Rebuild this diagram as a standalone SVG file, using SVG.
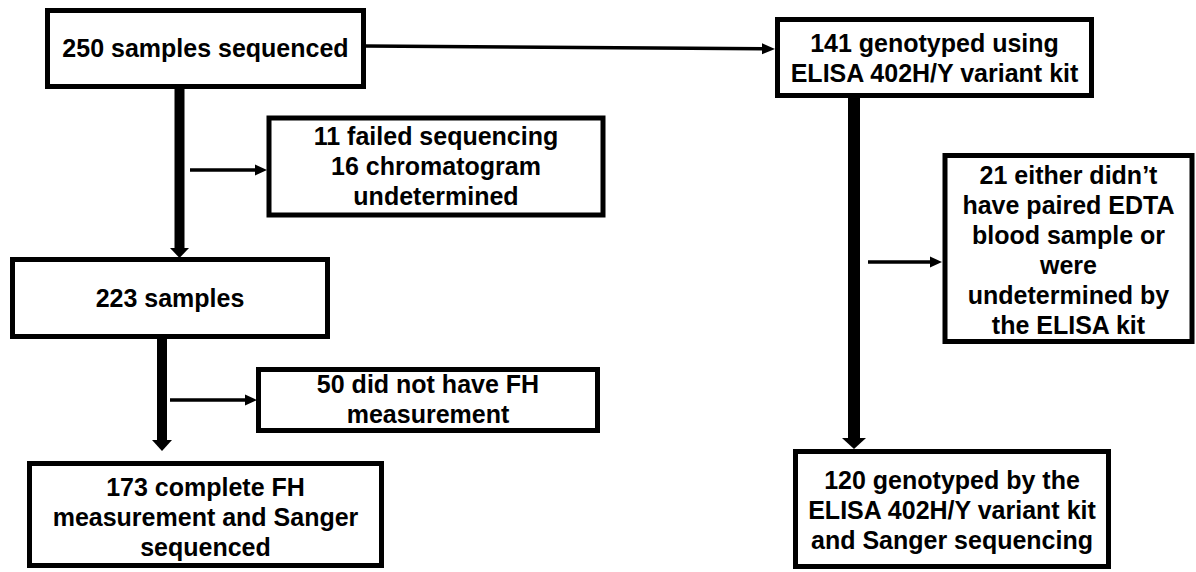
<svg xmlns="http://www.w3.org/2000/svg" width="1196" height="572" viewBox="0 0 1196 572">
<style>
  .box { fill: #ffffff; stroke: #000000; stroke-width: 5; }
  .lbl { font-family: "Liberation Sans", Arial, sans-serif; font-weight: bold; font-size: 25px; fill: #000000; text-anchor: middle; }
  .thick { fill: #000000; }
  .thin { stroke: #000000; stroke-width: 3.5; fill: none; }
  .head { fill: #000000; }
</style>
<rect width="1196" height="572" fill="#ffffff"/>
<g id="connectors">
  <!-- 250 -> 223 -->
  <rect class="thick" x="174.5" y="88" width="10" height="161"/>
  <polygon class="head" points="170,248 189,248 179.5,258"/>
  <!-- side arrow to 11 failed -->
  <line class="thin" x1="190" y1="170" x2="256" y2="170"/>
  <polygon class="head" points="255,164.5 267,170 255,175.5"/>
  <!-- 223 -> 173 -->
  <rect class="thick" x="157" y="339" width="10" height="102"/>
  <polygon class="head" points="152,440 172,440 162,451"/>
  <!-- side arrow to 50 -->
  <line class="thin" x1="170" y1="400" x2="246" y2="400"/>
  <polygon class="head" points="245,394.5 257,400 245,405.5"/>
  <!-- 250 -> 141 -->
  <line class="thin" x1="365" y1="46" x2="763" y2="48.7"/>
  <polygon class="head" points="762,43.2 775,49 762,54.2"/>
  <!-- 141 -> 120 -->
  <rect class="thick" x="848" y="98" width="12" height="341"/>
  <polygon class="head" points="842,438 866,438 854,449"/>
  <!-- side arrow to 21 -->
  <line class="thin" x1="868" y1="262" x2="931" y2="262"/>
  <polygon class="head" points="930,256.5 942,262 930,267.5"/>
</g>
<g id="n250">
  <rect class="box" x="47.5" y="10.5" width="316" height="76"/>
  <text class="lbl" x="205.5" y="57">250 samples sequenced</text>
</g>
<g id="n11">
  <rect class="box" x="269" y="118" width="334" height="97"/>
  <text class="lbl" x="436" y="145">11 failed sequencing</text>
  <text class="lbl" x="436" y="175">16 chromatogram</text>
  <text class="lbl" x="436" y="205">undetermined</text>
</g>
<g id="n223">
  <rect class="box" x="12.5" y="259.5" width="315" height="77"/>
  <text class="lbl" x="170" y="307">223 samples</text>
</g>
<g id="n50">
  <rect class="box" x="258.5" y="369.5" width="339" height="61"/>
  <text class="lbl" x="428" y="393">50 did not have FH</text>
  <text class="lbl" x="428" y="423">measurement</text>
</g>
<g id="n173">
  <rect class="box" x="29.5" y="463.5" width="352" height="102"/>
  <text class="lbl" x="205.5" y="496">173 complete FH</text>
  <text class="lbl" x="205.5" y="526">measurement and Sanger</text>
  <text class="lbl" x="205.5" y="556">sequenced</text>
</g>
<g id="n141">
  <rect class="box" x="777.5" y="19.5" width="314" height="76"/>
  <text class="lbl" x="934.5" y="52">141 genotyped using</text>
  <text class="lbl" x="934.5" y="82">ELISA 402H/Y variant kit</text>
</g>
<g id="n21">
  <rect class="box" x="945" y="155.5" width="247" height="186"/>
  <text class="lbl" x="1068.5" y="184">21 either didn’t</text>
  <text class="lbl" x="1068.5" y="214">have paired EDTA</text>
  <text class="lbl" x="1068.5" y="244">blood sample or</text>
  <text class="lbl" x="1068.5" y="274">were</text>
  <text class="lbl" x="1068.5" y="304">undetermined by</text>
  <text class="lbl" x="1068.5" y="334">the ELISA kit</text>
</g>
<g id="n120">
  <rect class="box" x="795.5" y="451.5" width="313" height="115"/>
  <text class="lbl" x="952" y="489">120 genotyped by the</text>
  <text class="lbl" x="952" y="519">ELISA 402H/Y variant kit</text>
  <text class="lbl" x="952" y="549">and Sanger sequencing</text>
</g>
</svg>
